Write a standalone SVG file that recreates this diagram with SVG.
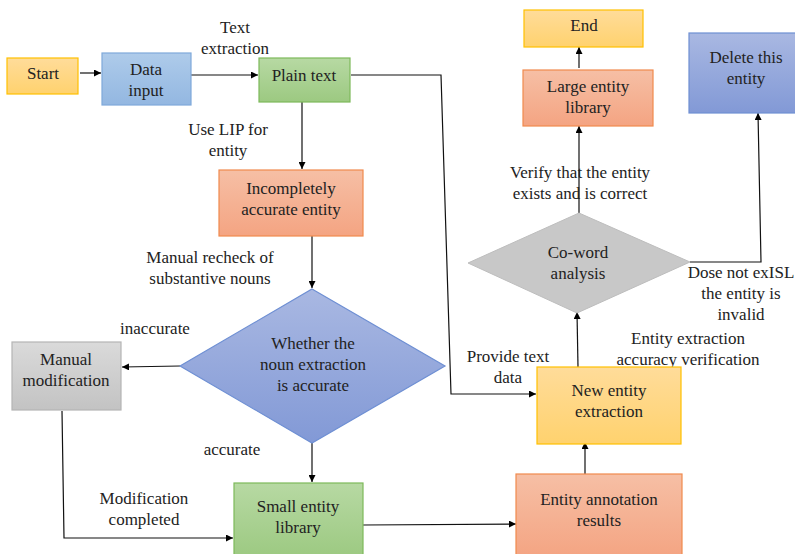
<svg xmlns="http://www.w3.org/2000/svg" width="795" height="554" viewBox="0 0 795 554">
  <defs>
    <linearGradient id="gYellow" x1="0" y1="0" x2="0" y2="1">
      <stop offset="0" stop-color="#FFDC9A"/>
      <stop offset="1" stop-color="#FFD26E"/>
    </linearGradient>
    <linearGradient id="gBlueL" x1="0" y1="0" x2="0" y2="1">
      <stop offset="0" stop-color="#AECBEA"/>
      <stop offset="1" stop-color="#93B7E1"/>
    </linearGradient>
    <linearGradient id="gGreen" x1="0" y1="0" x2="0" y2="1">
      <stop offset="0" stop-color="#B7D9A3"/>
      <stop offset="1" stop-color="#9CC981"/>
    </linearGradient>
    <linearGradient id="gOrange" x1="0" y1="0" x2="0" y2="1">
      <stop offset="0" stop-color="#F6BFA5"/>
      <stop offset="1" stop-color="#F4A482"/>
    </linearGradient>
    <linearGradient id="gGray" x1="0" y1="0" x2="0" y2="1">
      <stop offset="0" stop-color="#DADADA"/>
      <stop offset="1" stop-color="#C3C3C3"/>
    </linearGradient>
    <linearGradient id="gBlue" x1="0" y1="0" x2="0" y2="1">
      <stop offset="0" stop-color="#A9B8E2"/>
      <stop offset="1" stop-color="#8299D6"/>
    </linearGradient>
    <marker id="arr" viewBox="0 0 10 10" refX="10" refY="5" markerWidth="7" markerHeight="7" markerUnits="userSpaceOnUse" orient="auto">
      <path d="M0,0 L10,5 L0,10 z" fill="#000"/>
    </marker>
    <style>
      text { font-family: "Liberation Serif", "Times New Roman", serif; font-size: 17px; fill: #222; text-anchor: middle; }
      .yellow { fill: url(#gYellow); stroke: #FFC000; stroke-width: 1.2; }
      .bluel { fill: url(#gBlueL); stroke: #7FA9DA; stroke-width: 1.2; }
      .green { fill: url(#gGreen); stroke: #7DB95A; stroke-width: 1.2; }
      .orange { fill: url(#gOrange); stroke: #F08A4E; stroke-width: 1.2; }
      .gray { fill: url(#gGray); stroke: #B5B5B5; stroke-width: 1.2; }
      .blue { fill: url(#gBlue); stroke: #6E8FD3; stroke-width: 1.2; }
      .grayd { fill: #C8C8C8; stroke: #BDBDBD; stroke-width: 1; }
      .conn line, .conn polyline { fill: none; stroke: #111; stroke-width: 1.2; }
    </style>
  </defs>

  <!-- connectors -->
  <g class="conn">
    <line x1="80" y1="73" x2="101" y2="73" marker-end="url(#arr)"/>
    <line x1="191" y1="75" x2="258" y2="75" marker-end="url(#arr)"/>
    <line x1="302" y1="102" x2="302" y2="169" marker-end="url(#arr)"/>
    <line x1="312" y1="236" x2="312" y2="288" marker-end="url(#arr)"/>
    <line x1="180" y1="366" x2="122" y2="367" marker-end="url(#arr)"/>
    <polyline points="62,411 64,538 233,538" marker-end="url(#arr)"/>
    <line x1="312" y1="443" x2="312" y2="482" marker-end="url(#arr)"/>
    <line x1="363" y1="525" x2="516" y2="524" marker-end="url(#arr)"/>
    <line x1="585" y1="474" x2="585" y2="442" marker-end="url(#arr)"/>
    <polyline points="351,75 441,75 451,394 536,394" marker-end="url(#arr)"/>
    <line x1="578" y1="367" x2="577" y2="312" marker-end="url(#arr)"/>
    <line x1="579" y1="213" x2="579" y2="126" marker-end="url(#arr)"/>
    <line x1="579" y1="68" x2="579" y2="47" marker-end="url(#arr)"/>
    <polyline points="690,262 761,262 758,113" marker-end="url(#arr)"/>
  </g>

  <!-- connector labels -->
  <g id="labels">
    <text x="235" y="33">Text</text>
    <text x="235" y="54">extraction</text>
    <text x="228" y="135">Use LIP for</text>
    <text x="228" y="156">entity</text>
    <text x="210" y="263">Manual recheck of</text>
    <text x="210" y="284">substantive nouns</text>
    <text x="155" y="334">inaccurate</text>
    <text x="232" y="455">accurate</text>
    <text x="144" y="504">Modification</text>
    <text x="144" y="525">completed</text>
    <text x="508" y="362">Provide text</text>
    <text x="508" y="383">data</text>
    <text x="580" y="178">Verify that the entity</text>
    <text x="580" y="199">exists and is correct</text>
    <text x="741" y="278">Dose not exISL</text>
    <text x="741" y="299">the entity is</text>
    <text x="741" y="320">invalid</text>
    <text x="688" y="344">Entity extraction</text>
    <text x="688" y="365">accuracy verification</text>
  </g>

  <g id="start">
    <rect class="yellow" x="7" y="58" width="71" height="36"/>
    <text x="43" y="79">Start</text>
  </g>
  <g id="data-input">
    <rect class="bluel" x="102" y="53" width="89" height="52"/>
    <text x="146" y="75">Data</text>
    <text x="146" y="96">input</text>
  </g>
  <g id="plain-text">
    <rect class="green" x="259" y="58" width="91" height="44"/>
    <text x="304" y="81">Plain text</text>
  </g>
  <g id="incomplete-entity">
    <rect class="orange" x="219" y="170" width="144" height="66"/>
    <text x="291" y="194">Incompletely</text>
    <text x="291" y="215">accurate entity</text>
  </g>
  <g id="noun-check">
    <polygon class="blue" points="312,289 445,366 312,443 180,366"/>
    <text x="313" y="349">Whether the</text>
    <text x="313" y="370">noun extraction</text>
    <text x="313" y="391">is accurate</text>
  </g>
  <g id="manual-modification">
    <rect class="gray" x="12" y="342" width="109" height="68"/>
    <text x="66" y="365">Manual</text>
    <text x="66" y="386">modification</text>
  </g>
  <g id="small-library">
    <rect class="green" x="234" y="483" width="129" height="75"/>
    <text x="298" y="512">Small entity</text>
    <text x="298" y="533">library</text>
  </g>
  <g id="annotation-results">
    <rect class="orange" x="516" y="474" width="166" height="84"/>
    <text x="599" y="505">Entity annotation</text>
    <text x="599" y="526">results</text>
  </g>
  <g id="new-extraction">
    <rect class="yellow" x="537" y="367" width="144" height="77"/>
    <text x="609" y="396">New entity</text>
    <text x="609" y="417">extraction</text>
  </g>
  <g id="co-word">
    <polygon class="grayd" points="579,213 690,262 577,313 468,263"/>
    <text x="578" y="258">Co-word</text>
    <text x="578" y="279">analysis</text>
  </g>
  <g id="large-library">
    <rect class="orange" x="523" y="70" width="130" height="56"/>
    <text x="588" y="92">Large entity</text>
    <text x="588" y="113">library</text>
  </g>
  <g id="end">
    <rect class="yellow" x="524" y="10" width="119" height="37"/>
    <text x="584" y="31">End</text>
  </g>
  <g id="delete-entity">
    <rect class="blue" x="689" y="33" width="110" height="80"/>
    <text x="746" y="63">Delete this</text>
    <text x="746" y="84">entity</text>
  </g>
</svg>
